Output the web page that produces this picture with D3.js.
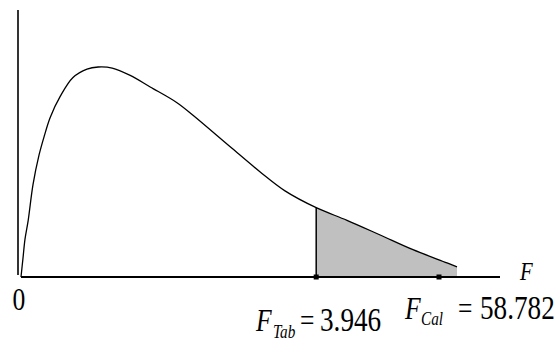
<!DOCTYPE html>
<html>
<head>
<meta charset="utf-8">
<script src="https://cdn.jsdelivr.net/npm/d3@7"></script>
<style>
  body { margin: 0; background: #fff; }
  svg { display: block; }
</style>
</head>
<body>
<div id="chart"></div>
<script>
// curve points (x in arbitrary units, y relative to peak)
var curveX = [0, 0.05, 0.10, 0.18, 0.30, 0.45, 0.58, 0.73, 0.98, 1.30, 1.65, 1.93, 2.28, 2.73, 3.23, 3.90, 4.30, 5.23, 5.98, 6.60, 7.38, 8.15, 8.98, 9.80, 10.65, 10.9];
var curveY = [0, 0.09, 0.18, 0.27, 0.44, 0.58, 0.67, 0.76, 0.86, 0.95, 0.99, 1.0, 0.995, 0.96, 0.905, 0.83, 0.77, 0.62, 0.50, 0.41, 0.33, 0.27, 0.20, 0.13, 0.067, 0.048];
var tabX = 7.38;     // F table value position
var calX = 10.45;    // F calculated value position
var tabLabel = ["F", "Tab", "=", "3.946"];
var calLabel = ["F", "Cal", "=", "58.782"];

var width = 560, height = 343;
var x = d3.scaleLinear().domain([0, 12]).range([21, 501]);
var y = d3.scaleLinear().domain([0, 1]).range([277, 67]);

var svg = d3.select("#chart").append("svg")
    .attr("width", width)
    .attr("height", height);

var pts = curveX.map(function (d, i) { return [d, curveY[i]]; });

// shaded tail
var tail = pts.filter(function (d) { return d[0] >= tabX; });
svg.append("path")
    .datum(tail)
    .attr("fill", "#c0c0c0")
    .attr("d", d3.area()
        .x(function (d) { return x(d[0]); })
        .y0(y(0))
        .y1(function (d) { return y(d[1]); })
        .curve(d3.curveCatmullRom.alpha(0.5)));

// axes
svg.append("line")
    .attr("x1", 18).attr("x2", 18)
    .attr("y1", 10).attr("y2", 275)
    .attr("stroke", "#000").attr("stroke-width", 1.6);
svg.append("line")
    .attr("x1", x(0)).attr("x2", 500)
    .attr("y1", y(0)).attr("y2", y(0))
    .attr("stroke", "#000").attr("stroke-width", 1.8);

// density curve
svg.append("path")
    .datum(pts)
    .attr("fill", "none")
    .attr("stroke", "#000")
    .attr("stroke-width", 1.3)
    .attr("d", d3.line()
        .x(function (d) { return x(d[0]); })
        .y(function (d) { return y(d[1]); })
        .curve(d3.curveCatmullRom.alpha(0.5)));

// vertical at F table
svg.append("line")
    .attr("x1", x(tabX)).attr("x2", x(tabX))
    .attr("y1", y(0)).attr("y2", y(curveY[curveX.indexOf(tabX)]))
    .attr("stroke", "#000").attr("stroke-width", 1.5);

// markers
svg.selectAll(".mark")
    .data([tabX, calX])
    .enter().append("rect")
    .attr("class", "mark")
    .attr("x", function (d) { return x(d) - 2.5; })
    .attr("y", y(0) - 2.5)
    .attr("width", 5).attr("height", 5)
    .attr("fill", "#000");

// text helper: squeezed serif text like the original
function label(px, py, str, size, italic, anchor) {
    svg.append("text")
        .attr("transform", "translate(" + px + "," + py + ") scale(0.8,1)")
        .attr("font-family", "Liberation Serif")
        .attr("font-size", size)
        .attr("font-style", italic ? "italic" : "normal")
        .attr("text-anchor", anchor || "start")
        .attr("fill", "#000")
        .text(str);
}

label(19, 310, "0", 32, false, "middle");
label(520, 280, "F", 26, true);

label(256, 331, tabLabel[0], 32, true);
label(273, 338, tabLabel[1], 19, true);
label(300, 331, tabLabel[2], 32, false);
label(320, 331, tabLabel[3], 34, false);

label(405, 319, calLabel[0], 32, true);
label(421, 325, calLabel[1], 19, true);
label(458, 319, calLabel[2], 32, false);
label(480, 319, calLabel[3], 34, false);
</script>
</body>
</html>
